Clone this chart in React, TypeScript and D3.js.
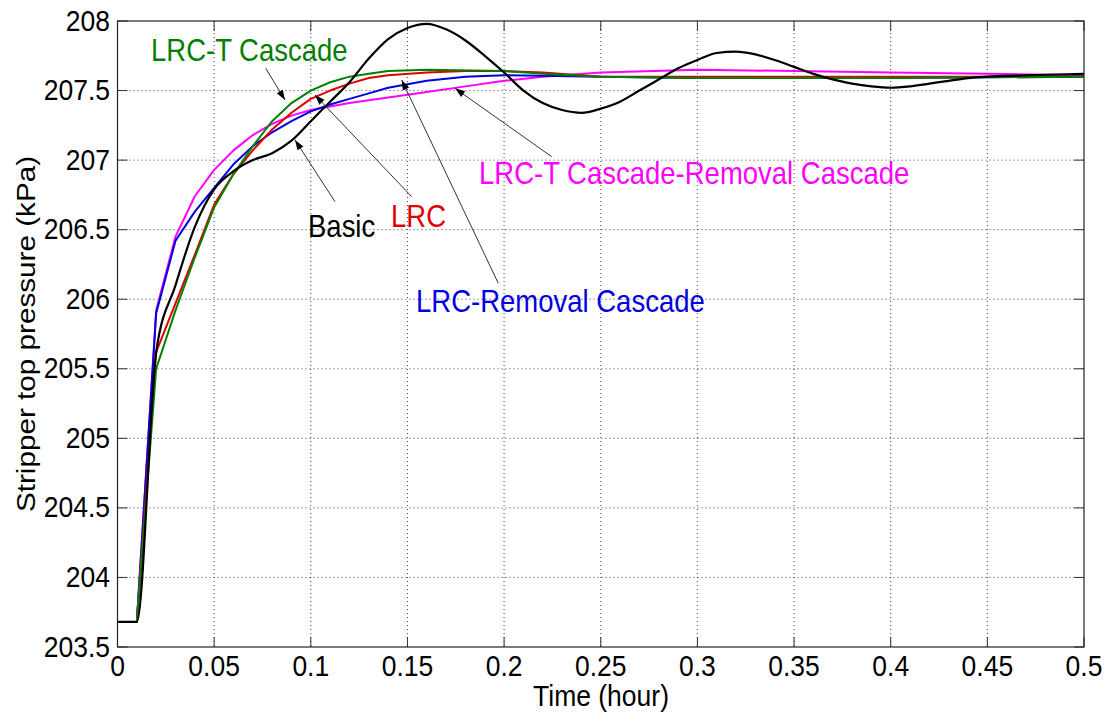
import React from "react";
import * as d3 from "d3";

const xTicks = [0, 0.05, 0.1, 0.15, 0.2, 0.25, 0.3, 0.35, 0.4, 0.45, 0.5];
const yTicks = [203.5, 204, 204.5, 205, 205.5, 206, 206.5, 207, 207.5, 208];

const tBasic = [0, 0.01, 0.02, 0.03, 0.04, 0.05, 0.06, 0.07, 0.08, 0.09, 0.1, 0.11, 0.12, 0.13, 0.14, 0.15, 0.16, 0.17, 0.18, 0.19, 0.2, 0.21, 0.22, 0.23, 0.24, 0.25, 0.26, 0.27, 0.28, 0.29, 0.3, 0.31, 0.32, 0.33, 0.34, 0.35, 0.36, 0.37, 0.38, 0.39, 0.4, 0.41, 0.42, 0.43, 0.44, 0.45, 0.47, 0.5];
const basic = [203.68, 203.68, 205.62, 206.1, 206.52, 206.79, 206.92, 207.0, 207.05, 207.14, 207.28, 207.42, 207.56, 207.73, 207.87, 207.95, 207.98, 207.94, 207.86, 207.75, 207.63, 207.5, 207.41, 207.36, 207.34, 207.37, 207.42, 207.5, 207.58, 207.66, 207.72, 207.77, 207.78, 207.76, 207.72, 207.67, 207.62, 207.58, 207.55, 207.53, 207.52, 207.53, 207.55, 207.57, 207.59, 207.6, 207.61, 207.62];

const tLrc = [0, 0.01, 0.02, 0.03, 0.04, 0.05, 0.06, 0.07, 0.08, 0.09, 0.1, 0.11, 0.12, 0.13, 0.14, 0.16, 0.18, 0.2, 0.22, 0.25, 0.3, 0.4, 0.5];
const lrc = [203.68, 203.68, 205.62, 205.97, 206.32, 206.68, 206.9, 207.07, 207.22, 207.34, 207.44, 207.5, 207.55, 207.59, 207.61, 207.63, 207.64, 207.64, 207.63, 207.6, 207.6, 207.6, 207.6];

const tLrcT = [0, 0.01, 0.02, 0.03, 0.04, 0.05, 0.06, 0.07, 0.08, 0.09, 0.1, 0.11, 0.12, 0.13, 0.14, 0.16, 0.2, 0.22, 0.25, 0.3, 0.4, 0.5];
const lrcT = [203.68, 203.68, 205.5, 205.92, 206.3, 206.66, 206.9, 207.1, 207.28, 207.41, 207.5, 207.56, 207.6, 207.62, 207.64, 207.65, 207.64, 207.62, 207.6, 207.59, 207.59, 207.6];

const tLrcRem = [0, 0.01, 0.02, 0.03, 0.04, 0.05, 0.06, 0.07, 0.08, 0.09, 0.1, 0.11, 0.12, 0.13, 0.14, 0.16, 0.18, 0.2, 0.25, 0.3, 0.4, 0.5];
const lrcRem = [203.68, 203.68, 205.9, 206.42, 206.63, 206.8, 206.97, 207.1, 207.2, 207.28, 207.35, 207.4, 207.44, 207.48, 207.52, 207.57, 207.6, 207.61, 207.6, 207.59, 207.59, 207.6];

const tLrcTRem = [0, 0.01, 0.02, 0.03, 0.04, 0.05, 0.06, 0.07, 0.08, 0.09, 0.1, 0.12, 0.14, 0.16, 0.18, 0.2, 0.22, 0.25, 0.3, 0.35, 0.4, 0.45, 0.5];
const lrcTRem = [203.68, 203.68, 205.92, 206.45, 206.74, 206.93, 207.07, 207.18, 207.26, 207.32, 207.36, 207.41, 207.45, 207.49, 207.53, 207.57, 207.6, 207.63, 207.65, 207.64, 207.63, 207.62, 207.61];

const seriesNames = ["Basic", "LRC", "LRC-T Cascade", "LRC-Removal Cascade", "LRC-T Cascade-Removal Cascade"];
const seriesColors = ["#000000", "#e00000", "#008000", "#0000e0", "#ff00ff"];

const W = 1112;
const H = 721;
const left = 117.5;
const right = 1084;
const top = 21;
const bottom = 647;

const FONT = "Arial, 'Liberation Sans', sans-serif";

export default function App() {
  const x = d3.scaleLinear().domain([0, 0.5]).range([left, right]);
  const y = d3.scaleLinear().domain([203.5, 208]).range([bottom, top]);

  const series = [
    { t: tBasic, v: basic },
    { t: tLrc, v: lrc },
    { t: tLrcT, v: lrcT },
    { t: tLrcRem, v: lrcRem },
    { t: tLrcTRem, v: lrcTRem },
  ];

  const smooth = d3
    .line<[number, number]>()
    .x((d) => x(d[0]))
    .y((d) => y(d[1]))
    .curve(d3.curveMonotoneX);
  const straight = d3
    .line<[number, number]>()
    .x((d) => x(d[0]))
    .y((d) => y(d[1]))
    .curve(d3.curveLinear);

  const drawOrder = [4, 3, 1, 2, 0];

  const sy = 1.12;
  const txt = (
    s: string,
    px: number,
    py: number,
    opts: { size?: number; anchor?: string; fill?: string; rotate?: boolean } = {}
  ) => {
    const size = opts.size ?? 26.5;
    const tr = opts.rotate
      ? `translate(${px},${py}) rotate(-90) scale(${sy},1)`
      : `translate(${px},${py}) scale(1,${sy})`;
    return (
      <text
        key={s + px + py}
        transform={tr}
        fontFamily={FONT}
        fontSize={size}
        textAnchor={opts.anchor ?? "start"}
        fill={opts.fill ?? "#000"}
      >
        {s}
      </text>
    );
  };

  const arrows: [number, number, number, number][] = [
    [265.7, 68.3, 285, 100],
    [335, 201.7, 295, 140],
    [411.7, 196.7, 315, 95],
    [498.3, 283.3, 401.7, 80],
    [551.7, 156.7, 455, 88.3],
  ];

  const arrowHead = (a: [number, number, number, number], i: number) => {
    const [x0, y0, x1, y1] = a;
    const ang = Math.atan2(y1 - y0, x1 - x0);
    const L = 10;
    const w = 3.5;
    const bx = x1 - L * Math.cos(ang);
    const by = y1 - L * Math.sin(ang);
    const px = -Math.sin(ang);
    const py = Math.cos(ang);
    const pts = `${x1},${y1} ${bx + w * px},${by + w * py} ${bx - w * px},${by - w * py}`;
    return (
      <g key={"ar" + i}>
        <line x1={x0} y1={y0} x2={x1} y2={y1} stroke="#333" strokeWidth={1} />
        <polygon points={pts} fill="#000" />
      </g>
    );
  };

  return (
    <svg width={W} height={H} style={{ position: "absolute", left: 0, top: 0, background: "#fff" }}>
      <rect x={0} y={0} width={W} height={H} fill="#fff" />
      {xTicks.slice(1, -1).map((t) => (
        <line key={"gx" + t} x1={x(t)} x2={x(t)} y1={top} y2={bottom} stroke="#000" strokeWidth={1} strokeDasharray="1,3" opacity={0.75} />
      ))}
      {yTicks.slice(1, -1).map((t) => (
        <line key={"gy" + t} x1={left} x2={right} y1={y(t)} y2={y(t)} stroke="#000" strokeWidth={1} strokeDasharray="1,3" opacity={0.75} />
      ))}
      {xTicks.map((t) => (
        <g key={"tx" + t}>
          <line x1={x(t)} x2={x(t)} y1={bottom} y2={bottom - 10} stroke="#333" strokeWidth={1} />
          <line x1={x(t)} x2={x(t)} y1={top} y2={top + 10} stroke="#333" strokeWidth={1} />
        </g>
      ))}
      {yTicks.map((t) => (
        <g key={"ty" + t}>
          <line x1={left} x2={left + 10} y1={y(t)} y2={y(t)} stroke="#333" strokeWidth={1} />
          <line x1={right} x2={right - 10} y1={y(t)} y2={y(t)} stroke="#333" strokeWidth={1} />
        </g>
      ))}
      {drawOrder.map((i) => {
        const s = series[i];
        const pts = s.t.map((t, k) => [t, s.v[k]] as [number, number]);
        const gen = i === 0 ? smooth : straight;
        return (
          <path key={seriesNames[i]} d={gen(pts) ?? ""} fill="none" stroke={seriesColors[i]} strokeWidth={i === 0 ? 2.2 : 2} strokeLinejoin="round" />
        );
      })}
      <rect x={left} y={top} width={right - left} height={bottom - top} fill="none" stroke="#222" strokeWidth={1.2} />
      {xTicks.map((t) => txt(String(t), x(t), 676, { anchor: "middle" }))}
      {yTicks.map((t) => txt(String(t), 110, y(t) + 9.5, { anchor: "end" }))}
      {txt("Time (hour)", 601, 706, { anchor: "middle" })}
      {txt("Stripper top pressure (kPa)", 35, 334, { anchor: "middle", rotate: true })}
      {arrows.map((a, i) => arrowHead(a, i))}
      {txt("LRC-T Cascade", 151, 61, { fill: seriesColors[2], size: 27.5 })}
      {txt("Basic", 308, 237, { fill: seriesColors[0], size: 27.5 })}
      {txt("LRC", 391, 227, { fill: seriesColors[1], size: 27.5 })}
      {txt("LRC-Removal Cascade", 416, 312, { fill: seriesColors[3], size: 27.5 })}
      {txt("LRC-T Cascade-Removal Cascade", 479, 184, { fill: seriesColors[4], size: 27.5 })}
    </svg>
  );
}
